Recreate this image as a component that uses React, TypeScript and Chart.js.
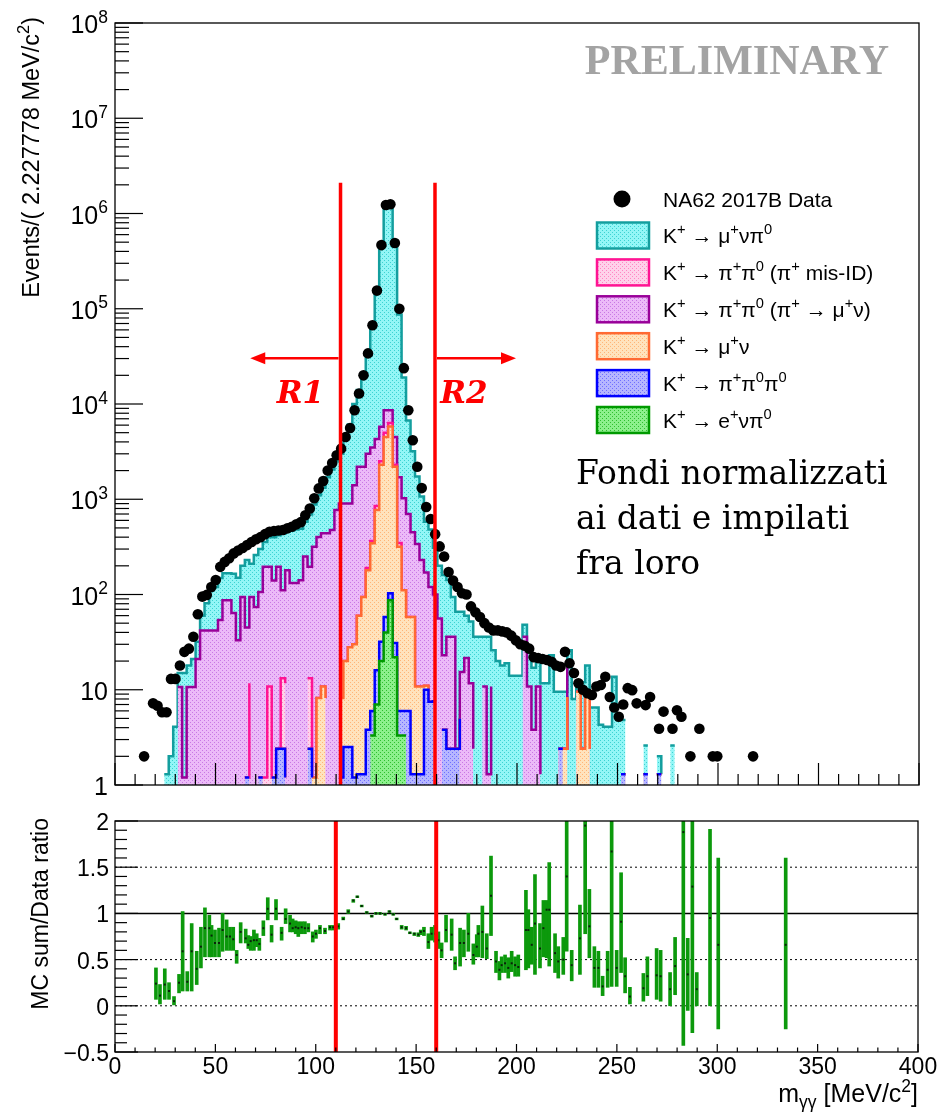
import React, { useEffect, useRef } from "react";
import { Chart, registerables } from "chart.js";

Chart.register(...registerables);

// ---------------- data ----------------
const BIN_WIDTH = 2.227778; // MeV/c^2 per bin, bin 0 starts at 0
const N_BINS = 180;

// NA62 2017B data, events per bin
const dataCounts = [
  0, 0, 0, 0, 0, 0, 2, 0, 7.2, 6.8,
  5.8, 5.8, 13, 13, 18, 25, 27, 36, 62, 95,
  99, 120, 142, 195, 220, 240, 270, 290, 308, 330,
  356, 380, 400, 430, 455, 465, 470, 475, 495, 515,
  545, 575, 680, 800, 1025, 1300, 1550, 2000, 2400, 2900,
  3400, 4500, 5600, 8600, 12900, 20000, 34000, 67000, 155000, 466000,
  1230000, 1250000, 490000, 100000, 23800, 8600, 4170, 2190, 1310, 830,
  620, 430, 320, 250, 172, 140, 120, 103, 100, 75,
  65, 58, 50, 45, 42, 42, 41, 40, 37, 33,
  30, 29, 27, 22, 21.5, 21, 20.5, 19.7, 18, 17.4,
  25, 19, 15, 11.7, 10, 9.2, 8.8, 10.8, 11.2, 13.7,
  8.4, 6.5, 5.2, 7, 10.4, 9.9, 7.2, 0, 6.9, 8.4,
  0, 3.9, 5.9, 0, 3.9, 6.1, 5.2, 0, 2, 0,
  3.9, 0, 0, 2, 2, 0, 0, 0, 0, 0,
  0, 0, 2, 0, 0, 0,
];

// K+ -> mu+ nu pi0 (top of the stack)
const kmu3Counts = [
  0, 0, 0, 0, 0, 0, 0, 0, 0, 1.34,
  0, 1.3, 2, 4.1, 4.3, 13.8, 7.3, 10.3, 11, 18,
  39, 68, 78, 95, 80, 80, 101, 117, 106, 185,
  116, 186, 194, 160, 205, 260, 225, 329, 275, 338,
  348, 349, 330, 495, 562, 698, 880, 1260, 1575, 1730,
  2100, 3600, 5200, 8600, 11800, 17800, 30000, 62500, 152700, 454000,
  1241000, 1211000, 445500, 85300, 17975, 6000, 2750, 1390, 840, 410,
  360, 210, 144, 137, 106, 58, 63.6, 50.6, 38.5, 40.3,
  33.6, 36, 25.2, 34.7, 15.2, 20, 14.2, 19, 14, 11.6,
  14, 12, 15.2, 13.2, 9.2, 10.4, 11.7, 11, 9.5, 7.1,
  7.1, 7, 8, 2.5, 9.6, 9.6, 4.1, 6.5, 4.3, 4.1,
  4.1, 2.5, 4.8, 3.5, 3.5, 0, 1.1, 0, 1.3, 1.3,
  0, 0.7, 0, 0, 2.6, 1.3, 0, 0.7, 0, 1.33,
  0, 0, 0, 0.7, 0, 0, 0, 0, 0, 0,
  0, 0, 0, 0, 0, 0,
];

// K+ -> pi+ pi0 (pi+ -> mu+ nu)
const k2piDecayCounts = [
  0, 0, 0, 0, 0, 0, 0, 0, 0, 0,
  0, 0, 0, 0, 10.7, 0, 10.7, 10.7, 21, 42,
  42, 42, 42, 54, 78.8, 87, 47, 33, 94, 43.8,
  82.3, 74, 104.8, 193.8, 184.2, 138.8, 192.6, 97.8, 168.3, 132,
  132, 141, 250, 181.8, 316.8, 393.8, 429.2, 431.8, 475, 770,
  880, 880, 872, 1370, 2140, 2106, 2810, 3135, 3450, 3260,
  3600, 2300, 2200, 1352, 914, 642, 392, 329, 219, 159,
  112.5, 92, 56, 19.2, 33.6, 33.6, 0, 10.4, 21.5, 11.7,
  0, 0, 10.8, 0, 10.8, 0, 0, 0, 0, 0,
  0, 22.3, 10.8, 0, 10.8, 0, 0, 12, 0, 0,
  0, 10.6, 0, 0, 0, 0, 0, 0, 0, 0,
  0, 11.2, 0, 0, 0, 0, 0, 0, 0, 0,
];

// sparse components: [bin, events]
const k2piMisIdBins: [number, number][] = [
  [30, 10.5], [34, 10.8], [37, 10.8], [38, 10.5], [43, 10.8], [50, 11.8], [56, 10],
  [57, 20], [58, 80], [59, 200], [60, 500], [61, 500], [62, 100], [63, 30],
];
const kmu2Bins: [number, number][] = [
  [24, 8.2], [26, 17], [45, 8.2], [46, 10.8], [47, 5.8], [50, 7], [51, 17.5], [52, 25.5],
  [53, 28.8], [54, 58.7], [55, 92.7], [56, 176], [57, 339], [58, 754], [59, 2268],
  [60, 4442], [61, 5697], [62, 2169], [63, 312], [64, 105], [65, 52], [66, 56.7],
  [67, 9.5], [68, 9.5], [69, 1], [91, 8.7], [101, 8.4], [103, 9.5], [105, 8.4], [116, 8.4],
];
const k3piBins: [number, number][] = [
  [15, 1.2], [29, 1.2], [30, 1.2], [32, 1.2], [33, 1.2], [35, 1.2], [36, 2.4], [37, 2.4],
  [38, 1.2], [43, 2.4], [44, 1.2], [47, 2.4], [50, 1.2], [51, 2.5], [52, 2.5], [53, 1.2],
  [54, 1.3], [55, 1.3], [56, 3.8], [57, 2.7], [58, 9], [59, 12], [60, 18], [61, 16],
  [62, 9], [63, 2.7], [64, 2.7], [65, 2.7], [66, 1.3], [67, 1.3], [68, 1.3], [69, 10],
  [70, 7.5], [71, 7.8], [73, 3.8], [74, 2.4], [75, 2.4], [76, 2.4], [77, 5], [80, 2.4],
  [83, 1.3], [86, 3.8], [89, 2.4], [91, 5], [93, 3.8], [95, 1.3], [99, 2.4], [100, 2.4],
  [104, 2.4], [106, 2.4], [113, 1.3], [114, 1.3], [118, 1.3], [119, 1.3], [121, 1.3],
  [122, 1.3], [125, 1.3], [127, 1.3], [133, 1.3],
];
const ke3Bins: [number, number][] = [
  [57, 3.3], [58, 7], [59, 20], [60, 40], [61, 87], [62, 22], [63, 3.3], [64, 3.3], [65, 3.3],
];

// ratio panel: MC sum / data
const ratioMass = [
  20.4, 22.4, 24.8, 26.9, 29.4, 31.9, 33.7, 36.0, 38.2, 40.7,
  42.8, 44.8, 47.0, 48.1, 49.8, 51.8, 53.6, 55.6, 57.3, 58.9,
  60.6, 62.6, 65.1, 66.4, 67.6, 69.2, 70.6, 71.9, 73.9, 76.1,
  78.0, 80.2, 83.0, 85.0, 87.2, 88.5, 90.0, 91.3, 93.0, 94.6,
  96.3, 98.5, 100.1, 102.1, 104.6, 107.1, 108.7, 111.2, 113.7, 116.2,
  118.7, 120.7, 122.9, 125.4, 127.9, 130.0, 132.0, 134.5, 136.7, 138.6,
  140.3, 142.8, 145.0, 146.9, 149.1, 151.1, 152.3, 153.9, 156.1, 157.7,
  159.4, 161.1, 162.7, 164.9, 167.7, 169.4, 171.9, 173.8, 176.0, 178.5,
  180.2, 181.0, 183.0, 185.2, 187.3, 189.8, 191.5, 192.6, 194.3, 195.9,
  197.6, 199.3, 200.9, 204.7, 205.9, 207.6, 209.2, 211.7, 213.4, 215.0,
  216.3, 219.2, 220.8, 223.3, 225.0, 227.5, 231.6, 234.2, 236.3, 238.8,
  240.8, 242.9, 245.4, 247.4, 249.9, 252.1, 254.1, 256.5, 263.2, 265.2,
  269.8, 271.8, 276.5, 279.0, 283.1, 285.3, 287.6, 289.8, 296.4, 300.5,
  334.1,
];
const ratioValue = [
  0.24, 0.11, 0.23, 0.16, 0.05, 0.25, 0.59, 0.26, 0.59, 0.40,
  0.64, 0.84, 0.84, 0.76, 0.68, 0.68, 0.82, 0.75, 0.75, 0.72,
  0.55, 0.80, 0.73, 0.66, 0.70, 0.71, 0.71, 0.67, 0.84, 1.05,
  0.77, 1.05, 0.79, 0.94, 0.89, 0.84, 0.85, 0.84, 0.85, 0.84,
  0.84, 0.75, 0.78, 0.84, 0.81, 0.85, 0.85, 0.86, 0.94, 1.02,
  1.14, 1.18, 1.08, 1.01, 0.97, 1.00, 1.00, 0.99, 1.02, 0.99,
  0.94, 0.85, 0.84, 0.79, 0.78, 0.77, 0.80, 0.81, 0.69, 0.78,
  0.78, 0.71, 0.60, 0.82, 0.77, 0.46, 0.68, 0.68, 0.78, 0.55,
  0.64, 0.78, 0.80, 0.62, 1.19, 0.48, 0.39, 0.44, 0.46, 0.41,
  0.46, 0.44, 0.42, 0.82, 0.82, 0.66, 0.89, 0.62, 0.84, 1.04,
  1.04, 0.57, 0.48, 0.50, 1.40, 0.44, 0.73, 1.95, 0.86, 0.41,
  0.41, 0.21, 0.39, 1.67, 0.41, 0.91, 0.32, 0.10, 0.19, 0.32,
  0.33, 0.32, 0.18, 0.43, 1.88, 0.34, 1.29, 0.18, 0.95, 0.66,
  0.66,
];
const ratioLow = [
  0.07, 0.02, 0.07, 0.07, 0.01, 0.14, 0.16, 0.16, 0.16, 0.23,
  0.41, 0.53, 0.53, 0.53, 0.53, 0.53, 0.59, 0.60, 0.60, 0.60,
  0.46, 0.68, 0.68, 0.62, 0.60, 0.60, 0.64, 0.60, 0.76, 0.93,
  0.69, 0.93, 0.71, 0.89, 0.80, 0.80, 0.78, 0.75, 0.78, 0.78,
  0.80, 0.69, 0.73, 0.78, 0.78, 0.82, 0.82, 0.83, 0.93, 1.00,
  1.12, 1.17, 1.07, 1.00, 0.96, 0.99, 0.99, 0.98, 1.01, 0.98,
  0.93, 0.83, 0.82, 0.78, 0.76, 0.75, 0.77, 0.76, 0.62, 0.71,
  0.69, 0.62, 0.52, 0.69, 0.60, 0.39, 0.43, 0.53, 0.59, 0.45,
  0.53, 0.53, 0.52, 0.51, 0.76, 0.36, 0.28, 0.36, 0.36, 0.30,
  0.37, 0.32, 0.32, 0.39, 0.41, 0.45, 0.34, 0.41, 0.53, 0.52,
  0.43, 0.36, 0.30, 0.34, 0.59, 0.27, 0.34, 0.78, 0.52, 0.20,
  0.20, 0.11, 0.20, 0.21, 0.21, 0.36, 0.14, 0.02, 0.05, 0.11,
  0.07, 0.05, 0.00, 0.12, -0.43, -0.05, -0.29, 0.00, 0.00, -0.25,
  -0.25,
];
const ratioHigh = [
  0.41, 0.23, 0.40, 0.25, 0.10, 0.34, 1.02, 0.37, 0.89, 0.59,
  0.85, 1.06, 0.98, 0.87, 0.82, 0.84, 1.00, 0.93, 0.85, 0.85,
  0.60, 0.90, 0.83, 0.76, 0.75, 0.82, 0.78, 0.73, 0.92, 1.17,
  0.87, 1.15, 0.85, 1.05, 0.98, 0.94, 0.92, 0.91, 0.91, 0.91,
  0.89, 0.80, 0.82, 0.87, 0.84, 0.87, 0.87, 0.89, 0.96, 1.04,
  1.15, 1.19, 1.09, 1.02, 0.98, 1.01, 1.01, 1.00, 1.03, 1.00,
  0.95, 0.87, 0.86, 0.80, 0.79, 0.79, 0.82, 0.85, 0.78, 0.85,
  0.87, 0.80, 0.68, 0.98, 0.94, 0.53, 0.84, 0.82, 1.00, 0.67,
  0.77, 0.87, 1.08, 0.78, 1.62, 0.59, 0.48, 0.53, 0.55, 0.52,
  0.59, 0.53, 0.55, 1.25, 1.04, 0.85, 1.42, 0.89, 1.14, 1.14,
  1.55, 0.78, 0.64, 0.74, 2.50, 0.60, 1.09, 2.50, 1.26, 0.64,
  0.59, 0.32, 0.59, 2.50, 0.60, 1.44, 0.52, 0.20, 0.35, 0.53,
  0.62, 0.60, 0.36, 0.74, 2.50, 0.73, 2.50, 0.36, 1.91, 1.60,
  1.60,
];

// axis ticks / labels
const logTickPowers = [0, 1, 2, 3, 4, 5, 6, 7, 8];
const ratioTickLabels = [-0.5, 0, 0.5, 1, 1.5, 2];
const massTickLabels = [0, 50, 100, 150, 200, 250, 300, 350, 400];
const ratioCuts = [110, 160];
const topCuts = [112.2, 159.2];

const dataLegend = "NA62 2017B Data";
const noteLines = ["Fondi normalizzati", "ai dati e impilati", "fra loro"];

// stacking order bottom -> top
const SERIES = [
  { label: "K^{+} → e^{+}νπ^{0}", values: ke3Bins as any, line: "#009a00", bg: "#8cf08c", dot: "#2fbe2f" },
  { label: "K^{+} → π^{+}π^{0}π^{0}", values: k3piBins as any, line: "#0000ff", bg: "#b6b6ff", dot: "#6e6eff" },
  { label: "K^{+} → μ^{+}ν", values: kmu2Bins as any, line: "#ff6a33", bg: "#ffe3bd", dot: "#ffb577" },
  { label: "K^{+} → π^{+}π^{0} (π^{+} mis-ID)", values: k2piMisIdBins as any, line: "#ff1493", bg: "#ffd2ea", dot: "#ff86c4" },
  { label: "K^{+} → π^{+}π^{0} (π^{+} → μ^{+}ν)", values: k2piDecayCounts as any, line: "#990099", bg: "#ecbaf8", dot: "#c878e4" },
  { label: "K^{+} → μ^{+}νπ^{0}", values: kmu3Counts as any, line: "#139e9e", bg: "#93f6f6", dot: "#3cd2d2" },
];

// ---------------- helpers ----------------
const SANS = "'Liberation Sans', Arial, Helvetica, sans-serif";

function toFull(values: any[]): number[] {
  const out = new Array(N_BINS).fill(0);
  if (values.length && Array.isArray(values[0])) {
    for (const [b, v] of values as [number, number][]) out[b] = v;
  } else {
    (values as number[]).forEach((v, i) => (out[i] = v));
  }
  return out;
}

function makePattern(ctx: CanvasRenderingContext2D, bg: string, dot: string) {
  const c = document.createElement("canvas");
  c.width = 4;
  c.height = 4;
  const g = c.getContext("2d")!;
  g.fillStyle = bg;
  g.fillRect(0, 0, 4, 4);
  g.fillStyle = dot;
  g.fillRect(0, 0, 1, 1);
  g.fillRect(2, 2, 1, 1);
  return ctx.createPattern(c, "repeat")!;
}

type Seg = { t: string; k: number };
function parseRich(s: string): Seg[] {
  const segs: Seg[] = [];
  const re = /([\^_])\{([^}]*)\}/g;
  let last = 0;
  let m: RegExpExecArray | null;
  while ((m = re.exec(s))) {
    if (m.index > last) segs.push({ t: s.slice(last, m.index), k: 0 });
    segs.push({ t: m[2], k: m[1] === "^" ? 1 : -1 });
    last = re.lastIndex;
  }
  if (last < s.length) segs.push({ t: s.slice(last), k: 0 });
  return segs;
}

function drawRich(
  ctx: CanvasRenderingContext2D,
  s: string,
  x: number,
  y: number,
  size: number,
  align: "left" | "right" | "center" = "left",
  color = "#000",
  family = SANS,
  prefix = ""
) {
  const segs = parseRich(s);
  const font = (sz: number) => `${prefix} ${sz}px ${family}`;
  let total = 0;
  const ws = segs.map((sg) => {
    ctx.font = font(sg.k ? size * 0.7 : size);
    const w = ctx.measureText(sg.t).width;
    total += w;
    return w;
  });
  let cx = align === "right" ? x - total : align === "center" ? x - total / 2 : x;
  ctx.textAlign = "left";
  ctx.textBaseline = "alphabetic";
  ctx.fillStyle = color;
  segs.forEach((sg, i) => {
    ctx.font = font(sg.k ? size * 0.7 : size);
    const dy = sg.k === 1 ? -size * 0.42 : sg.k === -1 ? size * 0.24 : 0;
    ctx.fillText(sg.t, cx, y + dy);
    cx += ws[i];
  });
  return total;
}

function line(ctx: CanvasRenderingContext2D, x0: number, y0: number, x1: number, y1: number) {
  ctx.beginPath();
  ctx.moveTo(x0, y0);
  ctx.lineTo(x1, y1);
  ctx.stroke();
}

function arrow(ctx: CanvasRenderingContext2D, x0: number, x1: number, y: number) {
  const dir = Math.sign(x1 - x0);
  line(ctx, x0, y, x1 - dir * 12, y);
  ctx.beginPath();
  ctx.moveTo(x1, y);
  ctx.lineTo(x1 - dir * 15, y - 6);
  ctx.lineTo(x1 - dir * 15, y + 6);
  ctx.closePath();
  ctx.fill();
}

// ---------------- component ----------------
export default function App() {
  const topRef = useRef<HTMLCanvasElement>(null);
  const botRef = useRef<HTMLCanvasElement>(null);

  useEffect(() => {
    const topCanvas = topRef.current!;
    const botCanvas = botRef.current!;
    const tctx = topCanvas.getContext("2d")!;
    const patterns = SERIES.map((s) => makePattern(tctx, s.bg, s.dot));

    const comps = SERIES.map((s) => toFull(s.values));
    let running = new Array(N_BINS).fill(0);
    const histDatasets: any[] = SERIES.map((s, k) => {
      running = running.map((v, i) => v + comps[k][i]);
      const pts = running.map((v, i) => ({ x: i * BIN_WIDTH, y: v }));
      pts.push({ x: N_BINS * BIN_WIDTH, y: 0 });
      return {
        type: "line",
        label: s.label,
        data: pts,
        stepped: true,
        fill: "start",
        backgroundColor: patterns[k],
        borderColor: s.line,
        borderWidth: 2.5,
        pointRadius: 0,
        order: k + 1,
      };
    });
    const dataPoints = dataCounts
      .map((v, i) => (v > 0 ? { x: (i + 0.5) * BIN_WIDTH, y: v } : null))
      .filter(Boolean);

    const topDecor = {
      id: "topDecor",
      afterDatasetsDraw(chart: any) {
        const { ctx, chartArea: a, scales } = chart;
        const x = scales.x;
        const y = scales.y;
        ctx.save();
        // region cut lines and arrows
        ctx.strokeStyle = "#ff0000";
        ctx.fillStyle = "#ff0000";
        ctx.lineWidth = 3.5;
        for (const m of topCuts) {
          const px = x.getPixelForValue(m);
          line(ctx, px, y.getPixelForValue(2.1e6), px, a.bottom);
        }
        ctx.lineWidth = 2.5;
        const ay = y.getPixelForValue(30200);
        arrow(ctx, x.getPixelForValue(topCuts[0]) - 2, x.getPixelForValue(67.3), ay);
        arrow(ctx, x.getPixelForValue(topCuts[1]) + 2, x.getPixelForValue(199.5), ay);
        const ry = y.getPixelForValue(10200);
        drawRich(ctx, "R1", x.getPixelForValue(80.5), ry, 31, "left", "#ff0000", "'DejaVu Serif', serif", "italic bold");
        drawRich(ctx, "R2", x.getPixelForValue(161.8), ry, 31, "left", "#ff0000", "'DejaVu Serif', serif", "italic bold");

        // frame
        ctx.strokeStyle = "#000";
        ctx.lineWidth = 1.3;
        ctx.strokeRect(a.left, a.top, a.right - a.left, a.bottom - a.top);
        // y ticks (log)
        ctx.lineWidth = 1.2;
        for (let e = 0; e < 8; e++) {
          for (let k = 1; k <= 9; k++) {
            const py = y.getPixelForValue(k * Math.pow(10, e));
            line(ctx, a.left, py, a.left + (k === 1 ? 28 : 14), py);
          }
        }
        line(ctx, a.left, a.top, a.left + 28, a.top);
        // x ticks
        for (let m = 0; m <= 400; m += 10) {
          const px = x.getPixelForValue(m);
          line(ctx, px, a.bottom, px, a.bottom - (m % 50 === 0 ? 22 : 11));
        }
        // y labels
        for (const p of logTickPowers) {
          const py = y.getPixelForValue(Math.pow(10, p));
          const txt = p === 0 ? "1" : p === 1 ? "10" : `10^{${p}}`;
          drawRich(ctx, txt, 108, py + 10, 25, "right");
        }
        // y title
        ctx.save();
        ctx.translate(38.5, 17);
        ctx.rotate(-Math.PI / 2);
        drawRich(ctx, "Events/( 2.227778 MeV/c^{2})", 0, 0, 23.5, "right");
        ctx.restore();

        // PRELIMINARY
        ctx.fillStyle = "#a3a3a3";
        ctx.font = "bold 42px 'Liberation Serif', 'Times New Roman', serif";
        ctx.textAlign = "right";
        ctx.textBaseline = "alphabetic";
        ctx.fillText("PRELIMINARY", 889, 74);

        // legend
        const dataRowY = 199;
        ctx.fillStyle = "#000";
        ctx.beginPath();
        ctx.arc(622, dataRowY, 8.5, 0, Math.PI * 2);
        ctx.fill();
        drawRich(ctx, dataLegend, 663, dataRowY + 7.5, 21, "left");
        const order = [5, 3, 4, 2, 1, 0];
        order.forEach((k, r) => {
          const ry2 = 235.5 + r * 36.9;
          ctx.fillStyle = patterns[k];
          ctx.fillRect(597, ry2 - 13, 52, 26);
          ctx.strokeStyle = SERIES[k].line;
          ctx.lineWidth = 2.5;
          ctx.strokeRect(597, ry2 - 13, 52, 26);
          drawRich(ctx, SERIES[k].label, 663, ry2 + 7.5, 21, "left");
        });

        // note text
        ctx.fillStyle = "#000";
        ctx.font = "33px 'DejaVu Serif', serif";
        ctx.textAlign = "left";
        noteLines.forEach((t, i) => ctx.fillText(t, 576, 484 + i * 45));
        ctx.restore();
      },
    };

    const topChart = new Chart(topCanvas, {
      type: "line",
      data: {
        datasets: [
          ...histDatasets,
          {
            type: "scatter",
            label: dataLegend,
            data: dataPoints as any,
            pointRadius: 5.3,
            pointBackgroundColor: "#000",
            pointBorderWidth: 0,
            showLine: false,
            order: 0,
          },
        ],
      },
      options: {
        animation: false,
        responsive: false,
        devicePixelRatio: 1,
        events: [],
        layout: { padding: { left: 115, top: 23, right: 19, bottom: 15 } },
        scales: {
          x: { type: "linear", min: 0, max: 400, display: false },
          y: { type: "logarithmic", min: 1, max: 1e8, display: false },
        },
        plugins: { legend: { display: false }, tooltip: { enabled: false } },
      } as any,
      plugins: [topDecor],
    });

    const botDecor = {
      id: "botDecor",
      beforeDatasetsDraw(chart: any) {
        const { ctx, chartArea: a, scales } = chart;
        const y = scales.y;
        ctx.save();
        ctx.strokeStyle = "#000";
        ctx.lineWidth = 1;
        ctx.setLineDash([2, 3]);
        for (const v of [0, 0.5, 1.5]) {
          const py = y.getPixelForValue(v);
          line(ctx, a.left, py, a.right, py);
        }
        ctx.setLineDash([]);
        ctx.lineWidth = 1.5;
        const p1 = y.getPixelForValue(1);
        line(ctx, a.left, p1, a.right, p1);
        ctx.restore();
      },
      afterDatasetsDraw(chart: any) {
        const { ctx, chartArea: a, scales } = chart;
        const x = scales.x;
        const y = scales.y;
        ctx.save();
        ctx.strokeStyle = "#ff0000";
        ctx.lineWidth = 4;
        for (const m of ratioCuts) {
          const px = x.getPixelForValue(m);
          line(ctx, px, a.top, px, a.bottom);
        }
        ctx.strokeStyle = "#000";
        ctx.lineWidth = 1.3;
        ctx.strokeRect(a.left, a.top, a.right - a.left, a.bottom - a.top);
        ctx.lineWidth = 1.2;
        for (let i = 0; i <= 25; i++) {
          const v = -0.5 + i * 0.1;
          const py = y.getPixelForValue(v);
          line(ctx, a.left, py, a.left + (i % 5 === 0 ? 23 : 12), py);
        }
        for (let m = 0; m <= 400; m += 10) {
          const px = x.getPixelForValue(m);
          line(ctx, px, a.bottom, px, a.bottom - (m % 50 === 0 ? 8 : 4.5));
        }
        for (const v of ratioTickLabels) {
          const py = y.getPixelForValue(v);
          const txt = v < 0 ? "−" + Math.abs(v) : String(v);
          drawRich(ctx, txt, 109, py + 9, 23, "right");
        }
        for (const m of massTickLabels) {
          drawRich(ctx, String(m), x.getPixelForValue(m), 274, 23, "center");
        }
        drawRich(ctx, "m_{γγ} [MeV/c^{2}]", 918, 302, 25, "right");
        ctx.save();
        ctx.translate(47.5, 18);
        ctx.rotate(-Math.PI / 2);
        drawRich(ctx, "MC sum/Data ratio", 0, 0, 23, "right");
        ctx.restore();
        ctx.restore();
      },
    };

    const botChart = new Chart(botCanvas, {
      type: "bar",
      data: {
        datasets: [
          {
            type: "bar",
            label: "ratio error",
            data: ratioMass.map((m, i) => ({ x: m, y: [ratioLow[i], ratioHigh[i]] })) as any,
            backgroundColor: "#0c990c",
            borderWidth: 0,
            barThickness: 3,
            grouped: false,
            clip: 0,
            order: 1,
          } as any,
          {
            type: "scatter",
            label: "ratio",
            data: ratioMass.map((m, i) => ({ x: m, y: ratioValue[i] })),
            pointStyle: "rect",
            pointRadius: 1.4,
            pointBackgroundColor: "#0a200a",
            pointBorderWidth: 0,
            showLine: false,
            clip: 0,
            order: 0,
          } as any,
        ],
      },
      options: {
        animation: false,
        responsive: false,
        devicePixelRatio: 1,
        events: [],
        layout: { padding: { left: 115, top: 21, right: 20, bottom: 62 } },
        scales: {
          x: { type: "linear", min: 0, max: 400, offset: false, display: false },
          y: { type: "linear", min: -0.5, max: 2, display: false },
        },
        plugins: { legend: { display: false }, tooltip: { enabled: false } },
      } as any,
      plugins: [botDecor],
    });

    return () => {
      topChart.destroy();
      botChart.destroy();
    };
  }, []);

  return (
    <div style={{ position: "absolute", left: 0, top: 0, width: 938, height: 1114, background: "#fff" }}>
      <canvas
        ref={topRef}
        width={938}
        height={800}
        style={{ position: "absolute", left: 0, top: 0, width: 938, height: 800 }}
      />
      <canvas
        ref={botRef}
        width={938}
        height={314}
        style={{ position: "absolute", left: 0, top: 800, width: 938, height: 314 }}
      />
    </div>
  );
}
